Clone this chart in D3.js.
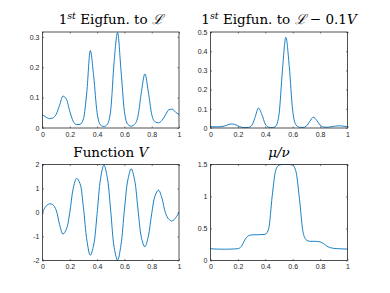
<!DOCTYPE html>
<html>
<head>
<meta charset="utf-8">
<script src="https://cdn.jsdelivr.net/npm/d3@7"></script>
<style>
  body { margin: 0; background: #fff; }
  svg { display: block; }
  .tick text { font-family: "Liberation Sans", Arial, sans-serif; font-size: 7px; fill: #262626; }
  .title { font-family: "DejaVu Serif", "Liberation Serif", serif; font-size: 13.5px; fill: #000; }
</style>
</head>
<body>
<div id="chart"></div>
<script>
// sample positions shared by all four curves
const xs = d3.range(41).map(i => i / 40);

// first eigenfunction of L
const eigL = [0.044, 0.036, 0.031, 0.033, 0.045, 0.075, 0.105, 0.095, 0.055, 0.022,
  0.011, 0.012, 0.030, 0.120, 0.255, 0.170, 0.050, 0.010, 0.005, 0.012,
  0.060, 0.220, 0.314, 0.190, 0.055, 0.012, 0.006, 0.012, 0.040, 0.120,
  0.178, 0.120, 0.045, 0.020, 0.017, 0.025, 0.042, 0.060, 0.062, 0.052, 0.044];

// first eigenfunction of L - 0.1V
const eigLV = [0.007, 0.006, 0.006, 0.007, 0.010, 0.016, 0.021, 0.019, 0.011, 0.004,
  0.002, 0.003, 0.012, 0.055, 0.104, 0.070, 0.020, 0.004, 0.002, 0.008,
  0.070, 0.300, 0.472, 0.320, 0.090, 0.015, 0.004, 0.003, 0.010, 0.035,
  0.056, 0.040, 0.015, 0.005, 0.004, 0.006, 0.009, 0.011, 0.011, 0.009, 0.007];

// potential V
const potV = [0, 0.26, 0.36, 0.33, 0.10, -0.50, -0.90, -0.70, 0.00, 1.00,
  1.42, 1.20, 0.20, -1.15, -1.78, -1.35, -0.05, 1.40, 1.98, 1.45,
  0.05, -1.45, -1.99, -1.35, 0.10, 1.35, 1.82, 1.35, 0.10, -1.05,
  -1.43, -1.00, -0.05, 0.70, 0.93, 0.60, 0.00, -0.28, -0.35, -0.22, 0];

// ratio mu / nu
const ratio = [0.185, 0.180, 0.178, 0.177, 0.177, 0.177, 0.178, 0.180, 0.185, 0.220,
  0.320, 0.385, 0.400, 0.402, 0.403, 0.405, 0.410, 0.500, 1.000, 1.400,
  1.490, 1.500, 1.500, 1.500, 1.490, 1.380, 0.950, 0.450, 0.320, 0.300,
  0.300, 0.298, 0.290, 0.265, 0.225, 0.200, 0.190, 0.185, 0.183, 0.180, 0.178];

const xTicks = [0, 0.2, 0.4, 0.6, 0.8, 1];
const yTicksL = [0, 0.1, 0.2, 0.3];
const yTicksLV = [0, 0.1, 0.2, 0.3, 0.4, 0.5];
const yTicksV = [-2, -1, 0, 1, 2];
const yTicksR = [0, 0.5, 1, 1.5];

const width = 390, height = 293;
const svg = d3.select('#chart').append('svg')
  .attr('width', width).attr('height', height);

const axisColor = '#262626';
const tickLen = 1.5;

function panel(opts) {
  const { left, top, w, h, values, yDomain, yTicks, title, curve } = opts;
  const g = svg.append('g').attr('transform', `translate(${left},${top})`);
  const x = d3.scaleLinear().domain([0, 1]).range([0, w]);
  const y = d3.scaleLinear().domain(yDomain).range([h, 0]);
  const fmt = d => String(d);

  // axes with inward ticks, mirrored on top / right
  const ax = [
    g.append('g').attr('transform', `translate(0,${h})`)
      .call(d3.axisBottom(x).tickValues(xTicks).tickFormat(fmt).tickSizeInner(-tickLen).tickSizeOuter(0).tickPadding(4)),
    g.append('g')
      .call(d3.axisLeft(y).tickValues(yTicks).tickFormat(fmt).tickSizeInner(-tickLen).tickSizeOuter(0).tickPadding(3)),
    g.append('g')
      .call(d3.axisTop(x).tickValues(xTicks).tickFormat('').tickSizeInner(-tickLen).tickSizeOuter(0)),
    g.append('g').attr('transform', `translate(${w},0)`)
      .call(d3.axisRight(y).tickValues(yTicks).tickFormat('').tickSizeInner(-tickLen).tickSizeOuter(0)),
  ];
  ax.forEach(a => {
    a.select('.domain').remove();
    a.selectAll('.tick line').attr('stroke', axisColor).attr('stroke-width', 0.6);
  });

  const line = d3.line()
    .x((d, i) => x(xs[i]))
    .y(d => y(d))
    .curve(curve || d3.curveMonotoneX);

  g.append('path')
    .datum(values)
    .attr('fill', 'none')
    .attr('stroke', '#0072BD')
    .attr('stroke-width', 0.9)
    .attr('d', line);

  g.append('rect')
    .attr('width', w).attr('height', h)
    .attr('fill', 'none')
    .attr('stroke', axisColor)
    .attr('stroke-width', 0.8);

  const t = g.append('text')
    .attr('class', 'title')
    .attr('x', w / 2)
    .attr('y', -8)
    .attr('text-anchor', 'middle');
  title(t);
}

function eigTitle(t, suffix) {
  t.append('tspan').text('1');
  t.append('tspan').attr('font-style', 'italic').attr('font-size', '9.5px').attr('dy', -5).text('st');
  t.append('tspan').attr('dy', 5).text(' Eigfun. to ');
  t.append('tspan').attr('font-style', 'italic').text('ℒ');
  if (suffix) {
    t.append('tspan').text(' − 0.1');
    t.append('tspan').attr('font-style', 'italic').text('V');
  }
}

panel({ left: 42.5, top: 32, w: 136.5, h: 96, values: eigL, yDomain: [0, 0.316], yTicks: yTicksL,
  title: t => eigTitle(t, false) });
panel({ left: 210.5, top: 32, w: 137, h: 96, values: eigLV, yDomain: [0, 0.5], yTicks: yTicksLV,
  title: t => eigTitle(t, true) });
panel({ left: 42.5, top: 164.5, w: 136.5, h: 96, values: potV, yDomain: [-2, 2], yTicks: yTicksV,
  curve: d3.curveCatmullRom,
  title: t => {
    t.append('tspan').text('Function ');
    t.append('tspan').attr('font-style', 'italic').text('V');
  } });
panel({ left: 210.5, top: 164.5, w: 137, h: 96, values: ratio, yDomain: [0, 1.5], yTicks: yTicksR,
  title: t => {
    t.append('tspan').attr('font-style', 'italic').text('μ/ν');
  } });
</script>
</body>
</html>
